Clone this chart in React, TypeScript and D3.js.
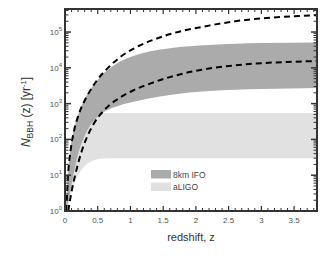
import React from 'react';
import * as d3 from 'd3';

// redshift grid and rates (N in yr^-1)
const upperZ = [0.02, 0.045, 0.09, 0.14, 0.21, 0.34, 0.49, 0.67, 0.88, 1.03, 1.5, 2.2, 2.6, 3.0, 3.5, 3.85];
const upperN = [1, 9, 56, 180, 500, 1660, 4500, 10500, 22400, 33000, 76000, 151000, 200000, 240000, 275000, 295000];

const lowerZ = [0.05, 0.1, 0.16, 0.26, 0.35, 0.45, 0.6, 0.7, 0.85, 1.03, 1.3, 1.6, 2.2, 2.6, 3.0, 3.5, 3.85];
const lowerN = [1, 3.5, 11, 50, 132, 295, 660, 980, 1510, 2290, 3630, 5500, 9550, 11700, 13500, 14800, 15500];

const ifoZ = [0.02, 0.045, 0.09, 0.14, 0.2, 0.3, 0.42, 0.6, 0.8, 1.0, 1.3, 1.6, 2.2, 3.0, 3.85];
const ifoHigh = [1.6, 10, 63, 200, 500, 1320, 3000, 7250, 13500, 20000, 29000, 35500, 43600, 49000, 51300];
const ifoLowZ = [0.02, 0.06, 0.1, 0.15, 0.21, 0.3, 0.42, 0.6, 0.8, 1.0, 1.3, 1.6, 2.2, 3.0, 3.85];
const ifoLow = [1, 2.2, 5.6, 16, 45, 126, 300, 590, 850, 1070, 1410, 1740, 2240, 2570, 2750];

const ligoZ = [0.02, 0.06, 0.1, 0.16, 0.22, 0.3, 0.44, 0.57, 0.8, 1, 2, 3, 3.85];
const ligoHigh = [3, 30, 100, 220, 330, 450, 520, 550, 550, 550, 550, 550, 550];
const ligoLow = [1, 2, 3.5, 7, 11.7, 18, 26, 29.5, 30, 30, 30, 30, 30];

const xTicks = [0, 0.5, 1, 1.5, 2, 2.5, 3, 3.5];
const yExponents = [0, 1, 2, 3, 4, 5];
const legendItems = ['8km IFO', 'aLIGO'];

const W = 333, H = 256;
const M = { left: 65, right: 16, top: 9, bottom: 45 };

export default function App() {
  const x = d3.scaleLinear().domain([0, 3.85]).range([M.left, W - M.right]);
  const y = d3.scaleLog().domain([1, 4.4e5]).range([H - M.bottom, M.top]);

  const line = (zs: number[], ns: number[]) =>
    d3.line<number>()
      .x((_, i) => x(zs[i]))
      .y((_, i) => y(ns[i]))
      .curve(d3.curveMonotoneX)(zs) as string;

  // band outline: upper edge left->right, then lower edge right->left
  const band = (zTop: number[], top: number[], zBot: number[], bot: number[]) => {
    const upper = line(zTop, top);
    const lowerRev = line(zBot.slice().reverse(), bot.slice().reverse()).replace(/^M/, 'L');
    return upper + lowerRev + 'Z';
  };

  const x0 = M.left, x1 = W - M.right, y0 = H - M.bottom, y1 = M.top;

  const xMinor = d3.range(0, 3.85, 0.1).filter(v => Math.abs(v * 2 - Math.round(v * 2)) > 1e-6);
  const yMinor: number[] = [];
  for (let e = 0; e <= 5; e++) for (let k = 2; k <= 9; k++) {
    const v = k * Math.pow(10, e);
    if (v < 4.4e5) yMinor.push(v);
  }

  const tickCol = '#333';
  const font = 'Liberation Sans, Arial, sans-serif';

  return (
    <svg width={W} height={H} style={{ position: 'absolute', left: 0, top: 0 }} fontFamily={font}>
      <rect width={W} height={H} fill="#fff" />
      <defs>
        <clipPath id="plot"><rect x={x0} y={y1} width={x1 - x0} height={y0 - y1} /></clipPath>
      </defs>
      <g clipPath="url(#plot)">
        <path d={band(ligoZ, ligoHigh, ligoZ, ligoLow)} fill="#e1e1e1" />
        <path d={band(ifoZ, ifoHigh, ifoLowZ, ifoLow)} fill="#ababab" />
        <path d={line(upperZ, upperN)} fill="none" stroke="#000" strokeWidth={2} strokeDasharray="6,4" />
        <path d={line(lowerZ, lowerN)} fill="none" stroke="#000" strokeWidth={2} strokeDasharray="6,4" />
      </g>

      {/* ticks, mirrored on all four sides */}
      <g stroke={tickCol}>
        {xTicks.map(t => (
          <g key={'xt' + t}>
            <line x1={x(t)} x2={x(t)} y1={y0} y2={y0 - 5} strokeWidth={1.2} />
            <line x1={x(t)} x2={x(t)} y1={y1} y2={y1 + 5} strokeWidth={1.2} />
          </g>
        ))}
        {xMinor.map(t => (
          <g key={'xm' + t}>
            <line x1={x(t)} x2={x(t)} y1={y0} y2={y0 - 3} strokeWidth={1} />
            <line x1={x(t)} x2={x(t)} y1={y1} y2={y1 + 3} strokeWidth={1} />
          </g>
        ))}
        {yExponents.map(e => (
          <g key={'yt' + e}>
            <line x1={x0} x2={x0 + 6} y1={y(Math.pow(10, e))} y2={y(Math.pow(10, e))} strokeWidth={1.5} />
            <line x1={x1} x2={x1 - 6} y1={y(Math.pow(10, e))} y2={y(Math.pow(10, e))} strokeWidth={1.5} />
          </g>
        ))}
        {yMinor.map(v => (
          <g key={'ym' + v}>
            <line x1={x0} x2={x0 + 3.5} y1={y(v)} y2={y(v)} strokeWidth={1} />
            <line x1={x1} x2={x1 - 3.5} y1={y(v)} y2={y(v)} strokeWidth={1} />
          </g>
        ))}
      </g>
      <rect x={x0} y={y1} width={x1 - x0} height={y0 - y1} fill="none" stroke={tickCol} strokeWidth={2} />

      {/* tick labels */}
      <g fill="#555" fontSize={8}>
        {xTicks.map(t => (
          <text key={'xl' + t} x={x(t)} y={y0 + 12} textAnchor="middle">{t}</text>
        ))}
        {yExponents.map(e => (
          <text key={'yl' + e} x={x0 - 3} y={y(Math.pow(10, e)) + 3} textAnchor="end">
            10<tspan fontSize={6} dy={-4}>{e}</tspan>
          </text>
        ))}
      </g>

      {/* axis titles */}
      <text x={(x0 + x1) / 2} y={241} textAnchor="middle" fontSize={11} fill="#333">redshift, z</text>
      <text transform={`translate(30, ${(y0 + y1) / 2 + 2}) rotate(-90)`} textAnchor="middle" fontSize={12} fill="#333">
        <tspan fontStyle="italic">N</tspan>
        <tspan fontSize={8.5} dy={3}>BBH</tspan>
        <tspan dy={-3}> (z) [yr</tspan>
        <tspan fontSize={7.5} dy={-4.5}>-1</tspan>
        <tspan dy={4.5}>]</tspan>
      </text>

      {/* legend */}
      {legendItems.map((lab, i) => (
        <g key={lab} transform={`translate(151, ${170 + i * 12.5})`}>
          <rect width={20} height={8.5} fill={i === 0 ? '#ababab' : '#e1e1e1'} />
          <text x={22} y={7.5} fontSize={8.5} fill="#444">{lab}</text>
        </g>
      ))}
    </svg>
  );
}
